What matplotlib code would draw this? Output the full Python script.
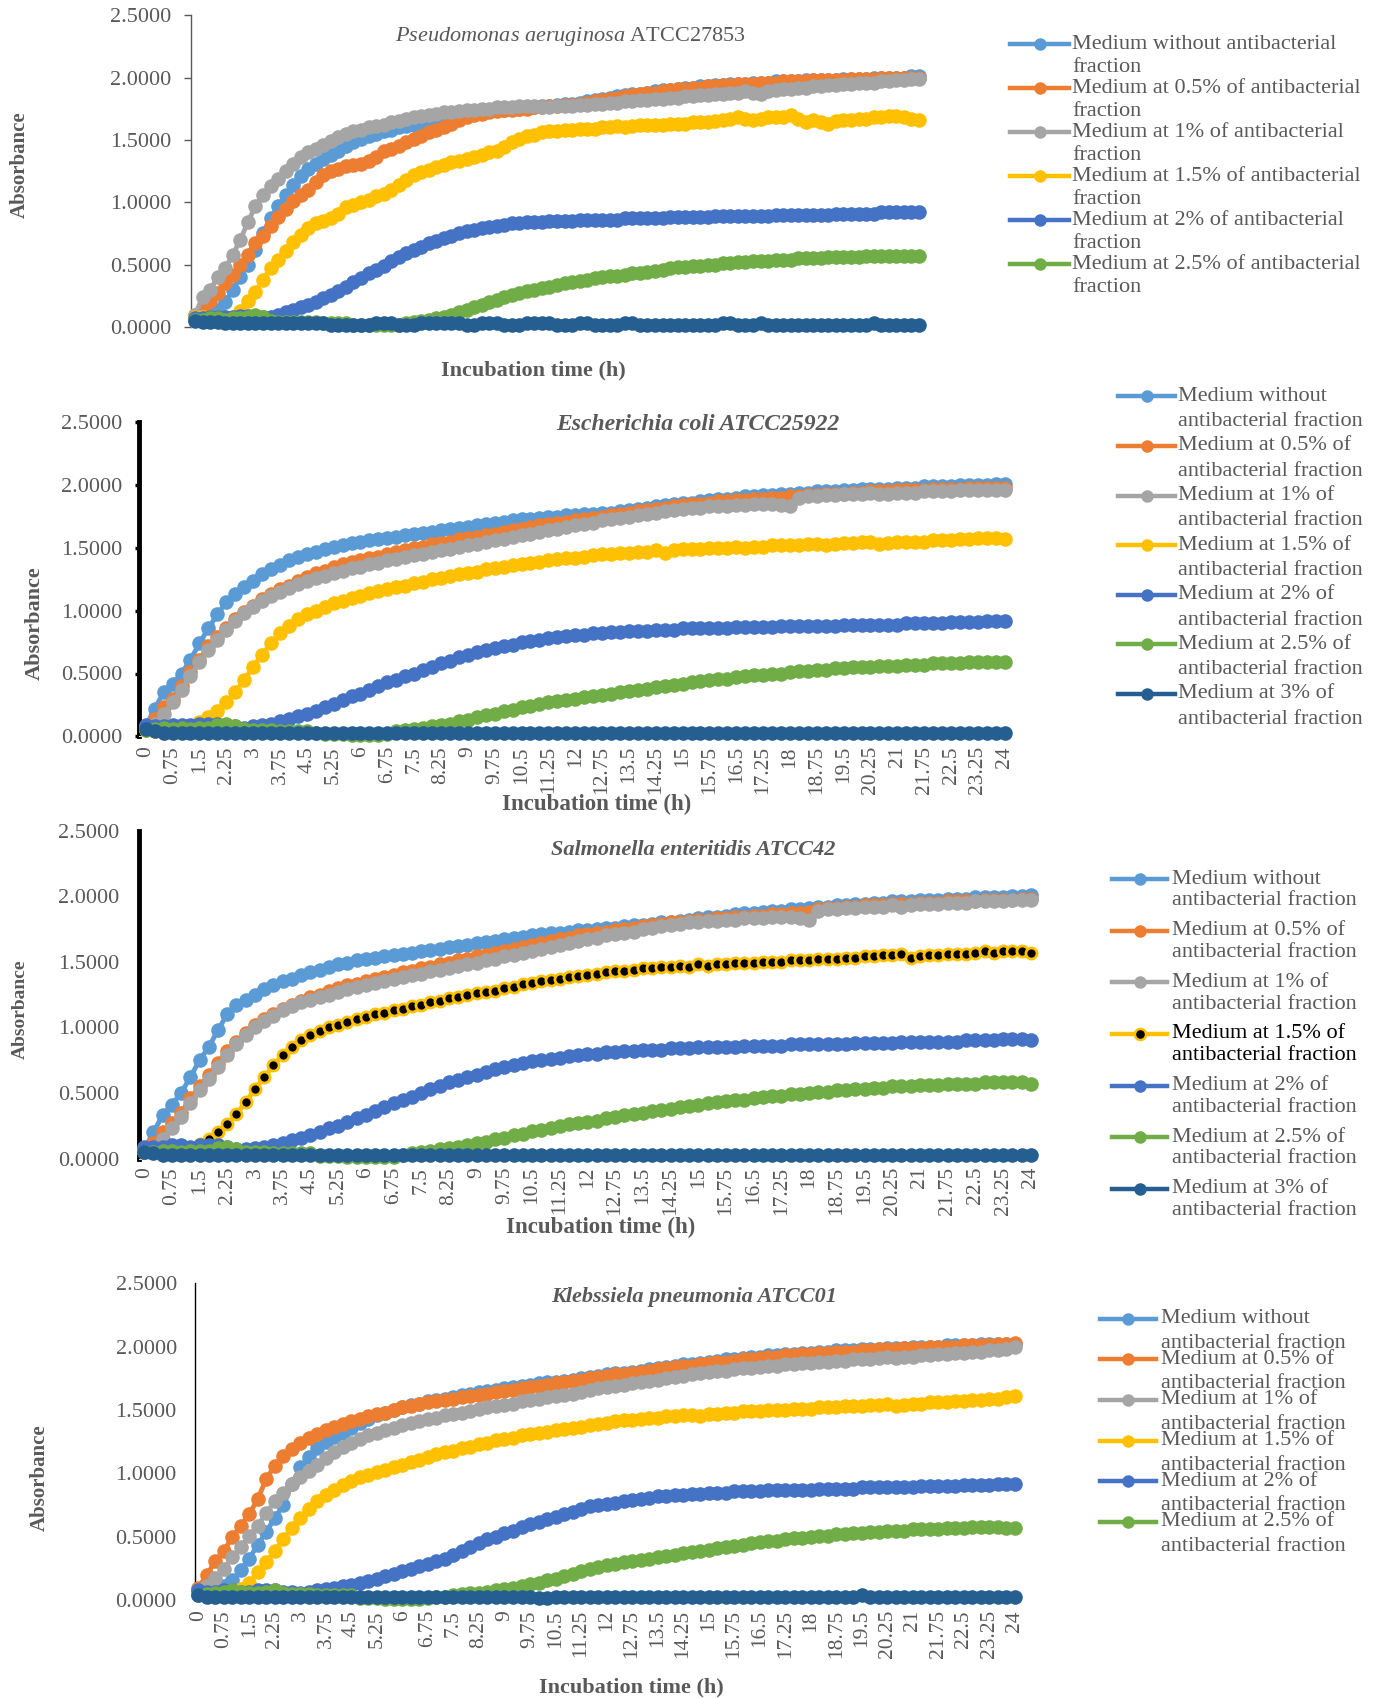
import numpy as np
import matplotlib
matplotlib.use("Agg")
import matplotlib.pyplot as plt
from matplotlib.lines import Line2D
from matplotlib.ticker import FormatStrFormatter

plt.rcParams['font.family'] = ['Liberation Serif', 'DejaVu Serif']
plt.rcParams['mathtext.fontset'] = 'custom'
plt.rcParams['mathtext.rm'] = 'Liberation Serif'
plt.rcParams['mathtext.it'] = 'Liberation Serif:italic'

# sampling every 0.25 h over 24 h (97 readings)
hours = np.arange(97) * 0.25
tick_hours = hours[::3]

series_names = [
    "Medium without antibacterial fraction",
    "Medium at 0.5% of antibacterial fraction",
    "Medium at 1% of antibacterial fraction",
    "Medium at 1.5% of antibacterial fraction",
    "Medium at 2% of antibacterial fraction",
    "Medium at 2.5% of antibacterial fraction",
    "Medium at 3% of antibacterial fraction",
]

# ---------------- Pseudomonas aeruginosa ----------------
pa_without = [0.08, 0.09, 0.10, 0.14, 0.20, 0.30, 0.40, 0.50, 0.62, 0.75, 0.87, 0.97,
              1.06, 1.14, 1.21, 1.27, 1.31, 1.35, 1.38, 1.41, 1.45, 1.48, 1.51, 1.53,
              1.55, 1.57, 1.58, 1.60, 1.61, 1.62, 1.63, 1.65, 1.66, 1.67, 1.68, 1.69,
              1.70, 1.71, 1.72, 1.73, 1.74, 1.74, 1.75, 1.75, 1.76, 1.76, 1.77, 1.77,
              1.78, 1.79, 1.79, 1.80, 1.81, 1.82, 1.83, 1.84, 1.85, 1.86, 1.87, 1.87,
              1.88, 1.89, 1.90, 1.90, 1.91, 1.92, 1.92, 1.93, 1.93, 1.94, 1.94, 1.95,
              1.95, 1.95, 1.96, 1.96, 1.96, 1.97, 1.97, 1.97, 1.97, 1.98, 1.98, 1.98,
              1.98, 1.98, 1.99, 1.99, 1.99, 1.99, 2.00, 2.00, 2.00, 2.00, 2.00, 2.01,
              2.01]
pa_05 = [0.10, 0.15, 0.21, 0.27, 0.35, 0.42, 0.50, 0.58, 0.67, 0.73, 0.81, 0.88,
         0.95, 1.01, 1.06, 1.10, 1.16, 1.22, 1.25, 1.27, 1.29, 1.30, 1.31, 1.33,
         1.36, 1.41, 1.43, 1.45, 1.48, 1.51, 1.53, 1.56, 1.58, 1.60, 1.63, 1.66,
         1.68, 1.70, 1.71, 1.72, 1.73, 1.74, 1.74, 1.75, 1.75, 1.76, 1.76, 1.77,
         1.77, 1.78, 1.78, 1.79, 1.80, 1.81, 1.82, 1.83, 1.84, 1.85, 1.86, 1.87,
         1.88, 1.88, 1.89, 1.90, 1.91, 1.91, 1.92, 1.92, 1.93, 1.93, 1.94, 1.94,
         1.95, 1.95, 1.95, 1.96, 1.96, 1.96, 1.97, 1.97, 1.97, 1.97, 1.98, 1.98,
         1.98, 1.98, 1.98, 1.99, 1.99, 1.99, 1.99, 2.00, 2.00, 2.00, 2.00, 2.00,
         2.00]
pa_1 = [0.10, 0.24, 0.30, 0.40, 0.47, 0.58, 0.70, 0.84, 0.97, 1.06, 1.13, 1.19,
        1.25, 1.31, 1.36, 1.40, 1.43, 1.46, 1.49, 1.52, 1.55, 1.57, 1.58, 1.60,
        1.61, 1.62, 1.64, 1.65, 1.67, 1.68, 1.69, 1.70, 1.71, 1.72, 1.72, 1.73,
        1.74, 1.74, 1.75, 1.75, 1.76, 1.76, 1.76, 1.77, 1.77, 1.77, 1.76, 1.76,
        1.77, 1.77, 1.77, 1.78, 1.78, 1.79, 1.79, 1.80, 1.80, 1.81, 1.81, 1.82,
        1.82, 1.83, 1.83, 1.84, 1.84, 1.85, 1.85, 1.86, 1.86, 1.87, 1.87, 1.88,
        1.88, 1.89, 1.88, 1.87, 1.89, 1.90, 1.91, 1.91, 1.92, 1.92, 1.93, 1.93,
        1.94, 1.94, 1.95, 1.95, 1.96, 1.96, 1.96, 1.97, 1.97, 1.98, 1.98, 1.99,
        1.99]
pa_15 = [0.08, 0.08, 0.08, 0.08, 0.08, 0.08, 0.13, 0.21, 0.28, 0.38, 0.47, 0.54,
         0.61, 0.68, 0.74, 0.79, 0.83, 0.85, 0.87, 0.91, 0.96, 0.98, 1.00, 1.02,
         1.05, 1.07, 1.10, 1.14, 1.18, 1.22, 1.24, 1.26, 1.28, 1.30, 1.32, 1.33,
         1.35, 1.36, 1.38, 1.40, 1.41, 1.44, 1.48, 1.51, 1.53, 1.54, 1.56, 1.57,
         1.57, 1.58, 1.58, 1.59, 1.59, 1.59, 1.60, 1.60, 1.61, 1.60, 1.61, 1.62,
         1.62, 1.62, 1.62, 1.63, 1.63, 1.63, 1.64, 1.64, 1.64, 1.65, 1.66, 1.67,
         1.68, 1.67, 1.66, 1.67, 1.68, 1.68, 1.68, 1.70, 1.67, 1.64, 1.66, 1.64,
         1.63, 1.65, 1.66, 1.66, 1.67, 1.67, 1.68, 1.68, 1.69, 1.69, 1.68, 1.67,
         1.66]
pa_2 = [0.07, 0.07, 0.08, 0.08, 0.08, 0.08, 0.09, 0.09, 0.09, 0.08, 0.08, 0.10,
        0.12, 0.14, 0.16, 0.18, 0.20, 0.23, 0.26, 0.29, 0.32, 0.36, 0.39, 0.43,
        0.46, 0.49, 0.53, 0.56, 0.59, 0.62, 0.64, 0.67, 0.69, 0.71, 0.73, 0.75,
        0.77, 0.78, 0.79, 0.80, 0.81, 0.82, 0.83, 0.83, 0.84, 0.84, 0.84, 0.85,
        0.85, 0.85, 0.85, 0.86, 0.86, 0.86, 0.86, 0.86, 0.86, 0.87, 0.87, 0.87,
        0.87, 0.87, 0.87, 0.88, 0.88, 0.88, 0.88, 0.88, 0.88, 0.89, 0.89, 0.89,
        0.89, 0.89, 0.89, 0.89, 0.89, 0.90, 0.90, 0.90, 0.90, 0.90, 0.90, 0.90,
        0.90, 0.91, 0.91, 0.91, 0.91, 0.91, 0.91, 0.92, 0.92, 0.92, 0.92, 0.92,
        0.92]
pa_25 = [0.06, 0.06, 0.07, 0.07, 0.06, 0.07, 0.07, 0.08, 0.10, 0.08, 0.05, 0.04,
         0.04, 0.04, 0.04, 0.04, 0.04, 0.03, 0.03, 0.03, 0.03, 0.02, 0.02, 0.02,
         0.02, 0.02, 0.02, 0.02, 0.03, 0.04, 0.05, 0.06, 0.07, 0.08, 0.10, 0.12,
         0.14, 0.16, 0.18, 0.20, 0.22, 0.24, 0.26, 0.27, 0.29, 0.30, 0.31, 0.32,
         0.34, 0.35, 0.36, 0.37, 0.38, 0.39, 0.40, 0.41, 0.41, 0.42, 0.43, 0.43,
         0.44, 0.45, 0.46, 0.47, 0.48, 0.48, 0.49, 0.49, 0.50, 0.50, 0.51, 0.51,
         0.52, 0.52, 0.53, 0.53, 0.53, 0.54, 0.54, 0.54, 0.55, 0.55, 0.55, 0.55,
         0.56, 0.56, 0.56, 0.56, 0.56, 0.57, 0.57, 0.57, 0.57, 0.57, 0.57, 0.57,
         0.57]
pa_3 = [0.05, 0.04, 0.04, 0.04, 0.03, 0.03, 0.03, 0.03, 0.03, 0.03, 0.03, 0.03,
        0.03, 0.03, 0.03, 0.03, 0.03, 0.03, 0.02, 0.02, 0.02, 0.02, 0.02, 0.02,
        0.03, 0.03, 0.03, 0.02, 0.02, 0.02, 0.03, 0.03, 0.03, 0.03, 0.03, 0.03,
        0.02, 0.02, 0.03, 0.03, 0.03, 0.02, 0.02, 0.02, 0.03, 0.03, 0.03, 0.03,
        0.02, 0.02, 0.02, 0.03, 0.03, 0.02, 0.02, 0.02, 0.02, 0.03, 0.03, 0.02,
        0.02, 0.02, 0.02, 0.02, 0.02, 0.02, 0.02, 0.02, 0.02, 0.02, 0.03, 0.03,
        0.02, 0.02, 0.02, 0.03, 0.02, 0.02, 0.02, 0.02, 0.02, 0.02, 0.02, 0.02,
        0.02, 0.02, 0.02, 0.02, 0.02, 0.02, 0.03, 0.02, 0.02, 0.02, 0.02, 0.02,
        0.02]

# ---------------- Escherichia coli ----------------
ec_without = [0.08, 0.22, 0.35, 0.42, 0.50, 0.61, 0.74, 0.86, 0.97, 1.07, 1.13, 1.19,
              1.24, 1.29, 1.33, 1.36, 1.40, 1.43, 1.45, 1.47, 1.49, 1.51, 1.52, 1.54,
              1.55, 1.56, 1.57, 1.58, 1.59, 1.60, 1.61, 1.62, 1.63, 1.64, 1.65, 1.66,
              1.67, 1.68, 1.69, 1.70, 1.71, 1.72, 1.73, 1.73, 1.74, 1.75, 1.75, 1.76,
              1.76, 1.77, 1.77, 1.78, 1.78, 1.79, 1.80, 1.81, 1.82, 1.83, 1.84, 1.85,
              1.86, 1.86, 1.87, 1.88, 1.89, 1.89, 1.90, 1.91, 1.91, 1.92, 1.92, 1.93,
              1.93, 1.94, 1.94, 1.95, 1.95, 1.95, 1.96, 1.96, 1.97, 1.97, 1.97, 1.97,
              1.98, 1.98, 1.98, 1.99, 1.99, 1.99, 1.99, 2.00, 2.00, 2.00, 2.00, 2.01,
              2.01]
ec_05 = [0.08, 0.14, 0.23, 0.30, 0.40, 0.51, 0.61, 0.72, 0.79, 0.86, 0.93, 0.99,
         1.04, 1.09, 1.13, 1.17, 1.20, 1.24, 1.27, 1.30, 1.32, 1.35, 1.37, 1.39,
         1.40, 1.42, 1.43, 1.45, 1.47, 1.48, 1.50, 1.51, 1.53, 1.54, 1.55, 1.57,
         1.58, 1.59, 1.60, 1.61, 1.63, 1.64, 1.65, 1.67, 1.68, 1.69, 1.70, 1.71,
         1.72, 1.73, 1.74, 1.75, 1.76, 1.77, 1.78, 1.79, 1.80, 1.81, 1.82, 1.83,
         1.84, 1.85, 1.85, 1.86, 1.87, 1.87, 1.88, 1.88, 1.89, 1.89, 1.90, 1.90,
         1.91, 1.91, 1.92, 1.92, 1.93, 1.93, 1.93, 1.94, 1.94, 1.95, 1.95, 1.95,
         1.96, 1.96, 1.96, 1.96, 1.97, 1.97, 1.97, 1.97, 1.98, 1.98, 1.98, 1.98,
         1.98]
ec_1 = [0.06, 0.10, 0.18, 0.27, 0.37, 0.48, 0.59, 0.69, 0.77, 0.85, 0.92, 0.98,
        1.03, 1.08, 1.12, 1.15, 1.18, 1.21, 1.24, 1.26, 1.28, 1.30, 1.32, 1.34,
        1.35, 1.37, 1.38, 1.40, 1.41, 1.43, 1.44, 1.45, 1.47, 1.48, 1.49, 1.51,
        1.52, 1.53, 1.55, 1.56, 1.57, 1.59, 1.60, 1.61, 1.63, 1.64, 1.65, 1.67,
        1.68, 1.69, 1.70, 1.72, 1.73, 1.74, 1.75, 1.76, 1.77, 1.78, 1.79, 1.80,
        1.81, 1.82, 1.82, 1.83, 1.83, 1.83, 1.84, 1.84, 1.85, 1.85, 1.85, 1.84,
        1.83, 1.90, 1.91, 1.91, 1.92, 1.92, 1.93, 1.93, 1.93, 1.94, 1.93, 1.93,
        1.94, 1.94, 1.94, 1.95, 1.95, 1.95, 1.95, 1.96, 1.96, 1.96, 1.96, 1.96,
        1.96]
ec_15 = [0.05, 0.04, 0.03, 0.04, 0.05, 0.07, 0.11, 0.15, 0.20, 0.27, 0.35, 0.45,
         0.55, 0.65, 0.74, 0.82, 0.88, 0.93, 0.97, 1.00, 1.03, 1.06, 1.08, 1.10,
         1.12, 1.14, 1.16, 1.17, 1.19, 1.20, 1.22, 1.23, 1.25, 1.26, 1.28, 1.29,
         1.30, 1.31, 1.33, 1.34, 1.35, 1.36, 1.37, 1.38, 1.39, 1.40, 1.41, 1.42,
         1.42, 1.43, 1.44, 1.45, 1.45, 1.46, 1.46, 1.47, 1.47, 1.48, 1.46, 1.48,
         1.49, 1.49, 1.49, 1.50, 1.50, 1.50, 1.51, 1.50, 1.51, 1.51, 1.52, 1.52,
         1.52, 1.52, 1.53, 1.53, 1.52, 1.53, 1.54, 1.54, 1.55, 1.55, 1.53, 1.54,
         1.55, 1.55, 1.55, 1.55, 1.56, 1.56, 1.56, 1.57, 1.57, 1.58, 1.58, 1.58,
         1.57]
ec_2 = [0.09, 0.08, 0.08, 0.09, 0.09, 0.09, 0.10, 0.10, 0.10, 0.09, 0.08, 0.07,
        0.08, 0.09, 0.10, 0.12, 0.14, 0.16, 0.18, 0.20, 0.23, 0.26, 0.29, 0.32,
        0.34, 0.37, 0.40, 0.43, 0.45, 0.48, 0.50, 0.53, 0.55, 0.58, 0.60, 0.63,
        0.65, 0.67, 0.69, 0.70, 0.72, 0.73, 0.75, 0.76, 0.77, 0.78, 0.79, 0.80,
        0.81, 0.81, 0.82, 0.82, 0.83, 0.83, 0.84, 0.84, 0.84, 0.85, 0.85, 0.85,
        0.86, 0.86, 0.86, 0.86, 0.86, 0.86, 0.87, 0.87, 0.87, 0.87, 0.87, 0.88,
        0.88, 0.88, 0.88, 0.88, 0.88, 0.88, 0.89, 0.89, 0.89, 0.89, 0.89, 0.89,
        0.89, 0.90, 0.90, 0.90, 0.90, 0.90, 0.91, 0.91, 0.91, 0.91, 0.92, 0.92,
        0.92]
ec_25 = [0.05, 0.06, 0.07, 0.06, 0.07, 0.06, 0.07, 0.07, 0.09, 0.10, 0.08, 0.06,
         0.05, 0.05, 0.05, 0.04, 0.04, 0.04, 0.04, 0.03, 0.02, 0.02, 0.02, 0.01,
         0.01, 0.01, 0.01, 0.02, 0.04, 0.05, 0.06, 0.07, 0.08, 0.09, 0.10, 0.12,
         0.13, 0.15, 0.17, 0.18, 0.20, 0.21, 0.23, 0.24, 0.26, 0.27, 0.28, 0.29,
         0.30, 0.31, 0.32, 0.33, 0.34, 0.35, 0.36, 0.37, 0.38, 0.39, 0.40, 0.41,
         0.42, 0.43, 0.44, 0.45, 0.46, 0.46, 0.47, 0.48, 0.49, 0.49, 0.50, 0.50,
         0.51, 0.52, 0.52, 0.53, 0.53, 0.54, 0.54, 0.55, 0.55, 0.55, 0.56, 0.56,
         0.56, 0.57, 0.57, 0.57, 0.58, 0.58, 0.58, 0.58, 0.59, 0.59, 0.59, 0.59,
         0.59]
ec_3 = [0.06, 0.04, 0.03, 0.03, 0.03, 0.03, 0.03, 0.03, 0.03, 0.03, 0.03, 0.03,
        0.03, 0.03, 0.03, 0.03, 0.03, 0.03, 0.03, 0.03, 0.03, 0.03, 0.03, 0.03,
        0.03, 0.03, 0.03, 0.03, 0.03, 0.03, 0.03, 0.03, 0.03, 0.03, 0.03, 0.03,
        0.03, 0.03, 0.03, 0.03, 0.03, 0.03, 0.03, 0.03, 0.03, 0.03, 0.03, 0.03,
        0.03, 0.03, 0.03, 0.03, 0.03, 0.03, 0.03, 0.03, 0.03, 0.03, 0.03, 0.03,
        0.03, 0.03, 0.03, 0.03, 0.03, 0.03, 0.03, 0.03, 0.03, 0.03, 0.03, 0.03,
        0.03, 0.03, 0.03, 0.03, 0.03, 0.03, 0.03, 0.03, 0.03, 0.03, 0.03, 0.03,
        0.03, 0.03, 0.03, 0.03, 0.03, 0.03, 0.03, 0.03, 0.03, 0.03, 0.03, 0.03,
        0.03]

# ---------------- Salmonella enteritidis ----------------
se_without = [0.07, 0.20, 0.33, 0.41, 0.50, 0.62, 0.75, 0.85, 0.98, 1.10, 1.17, 1.21,
              1.25, 1.29, 1.32, 1.35, 1.37, 1.40, 1.42, 1.44, 1.46, 1.48, 1.49, 1.51,
              1.52, 1.53, 1.54, 1.55, 1.56, 1.57, 1.58, 1.59, 1.60, 1.61, 1.62, 1.63,
              1.64, 1.65, 1.66, 1.67, 1.68, 1.69, 1.70, 1.71, 1.72, 1.72, 1.73, 1.74,
              1.74, 1.75, 1.76, 1.76, 1.77, 1.78, 1.78, 1.79, 1.80, 1.80, 1.81, 1.82,
              1.83, 1.84, 1.84, 1.85, 1.86, 1.87, 1.87, 1.88, 1.89, 1.89, 1.90, 1.90,
              1.91, 1.92, 1.92, 1.93, 1.93, 1.94, 1.94, 1.95, 1.95, 1.96, 1.96, 1.96,
              1.97, 1.97, 1.97, 1.98, 1.98, 1.98, 1.99, 1.99, 1.99, 1.99, 2.00, 2.00,
              2.01]
se_05 = [0.07, 0.12, 0.20, 0.27, 0.35, 0.46, 0.55, 0.64, 0.73, 0.82, 0.89, 0.96,
         1.02, 1.06, 1.10, 1.14, 1.17, 1.20, 1.23, 1.25, 1.28, 1.30, 1.32, 1.33,
         1.35, 1.37, 1.38, 1.40, 1.42, 1.43, 1.45, 1.46, 1.48, 1.49, 1.51, 1.52,
         1.54, 1.55, 1.57, 1.58, 1.60, 1.61, 1.63, 1.64, 1.66, 1.67, 1.68, 1.70,
         1.71, 1.72, 1.73, 1.74, 1.75, 1.76, 1.77, 1.78, 1.79, 1.80, 1.80, 1.81,
         1.82, 1.82, 1.83, 1.83, 1.84, 1.84, 1.85, 1.85, 1.86, 1.86, 1.87, 1.87,
         1.88, 1.90, 1.91, 1.91, 1.92, 1.92, 1.93, 1.93, 1.93, 1.94, 1.94, 1.94,
         1.95, 1.95, 1.95, 1.96, 1.96, 1.96, 1.96, 1.97, 1.97, 1.97, 1.97, 1.98,
         1.98]
se_1 = [0.05, 0.08, 0.15, 0.23, 0.32, 0.42, 0.52, 0.61, 0.70, 0.79, 0.87, 0.94,
        1.00, 1.05, 1.09, 1.13, 1.16, 1.19, 1.21, 1.23, 1.25, 1.27, 1.29, 1.31,
        1.32, 1.34, 1.35, 1.37, 1.38, 1.40, 1.41, 1.43, 1.44, 1.45, 1.47, 1.48,
        1.49, 1.51, 1.52, 1.54, 1.55, 1.57, 1.58, 1.60, 1.61, 1.63, 1.64, 1.66,
        1.67, 1.68, 1.70, 1.71, 1.72, 1.73, 1.75, 1.76, 1.77, 1.78, 1.79, 1.80,
        1.80, 1.81, 1.81, 1.82, 1.82, 1.83, 1.83, 1.83, 1.84, 1.84, 1.84, 1.83,
        1.82, 1.89, 1.90, 1.90, 1.91, 1.91, 1.92, 1.92, 1.92, 1.93, 1.92, 1.93,
        1.94, 1.94, 1.94, 1.95, 1.95, 1.95, 1.96, 1.96, 1.96, 1.96, 1.97, 1.97,
        1.97]
se_15 = [0.05, 0.04, 0.03, 0.04, 0.06, 0.08, 0.11, 0.15, 0.20, 0.26, 0.34, 0.43,
         0.53, 0.62, 0.71, 0.79, 0.85, 0.90, 0.94, 0.97, 1.00, 1.02, 1.04, 1.06,
         1.08, 1.10, 1.11, 1.13, 1.14, 1.16, 1.17, 1.19, 1.20, 1.22, 1.23, 1.25,
         1.26, 1.27, 1.28, 1.30, 1.31, 1.33, 1.34, 1.35, 1.36, 1.37, 1.38, 1.39,
         1.40, 1.41, 1.42, 1.43, 1.43, 1.44, 1.45, 1.45, 1.46, 1.46, 1.47, 1.46,
         1.48, 1.47, 1.48, 1.48, 1.49, 1.49, 1.49, 1.50, 1.50, 1.50, 1.51, 1.51,
         1.51, 1.52, 1.52, 1.52, 1.53, 1.53, 1.54, 1.54, 1.55, 1.55, 1.56, 1.53,
         1.54, 1.55, 1.55, 1.56, 1.56, 1.56, 1.57, 1.58, 1.57, 1.58, 1.58, 1.58,
         1.57]
se_2 = [0.09, 0.09, 0.09, 0.10, 0.10, 0.09, 0.10, 0.10, 0.10, 0.09, 0.07, 0.07,
        0.08, 0.09, 0.10, 0.12, 0.14, 0.16, 0.18, 0.20, 0.23, 0.25, 0.28, 0.31,
        0.33, 0.36, 0.39, 0.42, 0.45, 0.47, 0.50, 0.53, 0.55, 0.58, 0.60, 0.62,
        0.64, 0.66, 0.68, 0.70, 0.71, 0.73, 0.74, 0.75, 0.76, 0.77, 0.78, 0.79,
        0.80, 0.80, 0.81, 0.81, 0.82, 0.82, 0.83, 0.83, 0.83, 0.84, 0.84, 0.84,
        0.85, 0.85, 0.85, 0.85, 0.85, 0.86, 0.86, 0.86, 0.86, 0.86, 0.87, 0.87,
        0.87, 0.87, 0.87, 0.87, 0.87, 0.88, 0.88, 0.88, 0.88, 0.88, 0.89, 0.89,
        0.89, 0.89, 0.89, 0.89, 0.89, 0.90, 0.90, 0.90, 0.90, 0.91, 0.91, 0.91,
        0.90]
se_25 = [0.05, 0.05, 0.06, 0.06, 0.05, 0.06, 0.06, 0.06, 0.08, 0.09, 0.07, 0.05,
         0.05, 0.05, 0.04, 0.04, 0.04, 0.04, 0.04, 0.02, 0.02, 0.02, 0.01, 0.01,
         0.01, 0.01, 0.01, 0.01, 0.03, 0.04, 0.05, 0.06, 0.07, 0.08, 0.09, 0.10,
         0.12, 0.13, 0.15, 0.16, 0.18, 0.19, 0.21, 0.22, 0.23, 0.25, 0.26, 0.27,
         0.28, 0.29, 0.31, 0.32, 0.33, 0.34, 0.35, 0.36, 0.37, 0.38, 0.39, 0.40,
         0.41, 0.42, 0.43, 0.44, 0.45, 0.45, 0.46, 0.47, 0.48, 0.48, 0.49, 0.49,
         0.50, 0.51, 0.51, 0.52, 0.52, 0.53, 0.53, 0.54, 0.54, 0.55, 0.55, 0.55,
         0.56, 0.56, 0.56, 0.57, 0.57, 0.57, 0.57, 0.58, 0.58, 0.58, 0.58, 0.58,
         0.57]
se_3 = [0.05, 0.04, 0.03, 0.03, 0.03, 0.03, 0.03, 0.03, 0.03, 0.03, 0.03, 0.03,
        0.03, 0.03, 0.03, 0.03, 0.03, 0.03, 0.03, 0.03, 0.03, 0.03, 0.03, 0.03,
        0.03, 0.03, 0.03, 0.03, 0.03, 0.03, 0.03, 0.03, 0.03, 0.03, 0.03, 0.03,
        0.03, 0.03, 0.03, 0.03, 0.03, 0.03, 0.03, 0.03, 0.03, 0.03, 0.03, 0.03,
        0.03, 0.03, 0.03, 0.03, 0.03, 0.03, 0.03, 0.03, 0.03, 0.03, 0.03, 0.03,
        0.03, 0.03, 0.03, 0.03, 0.03, 0.03, 0.03, 0.03, 0.03, 0.03, 0.03, 0.03,
        0.03, 0.03, 0.03, 0.03, 0.03, 0.03, 0.03, 0.03, 0.03, 0.03, 0.03, 0.03,
        0.03, 0.03, 0.03, 0.03, 0.03, 0.03, 0.03, 0.03, 0.03, 0.03, 0.03, 0.03,
        0.03]

# ---------------- Klebsiella pneumoniae ----------------
kp_without = [0.08, 0.07, 0.08, 0.11, 0.16, 0.24, 0.33, 0.44, 0.54, 0.65, 0.75, 0.92,
              1.05, 1.13, 1.20, 1.25, 1.29, 1.32, 1.36, 1.40, 1.43, 1.46, 1.48, 1.50,
              1.52, 1.54, 1.55, 1.57, 1.58, 1.59, 1.60, 1.62, 1.63, 1.64, 1.65, 1.66,
              1.67, 1.68, 1.69, 1.70, 1.71, 1.72, 1.72, 1.73, 1.74, 1.75, 1.76, 1.77,
              1.78, 1.79, 1.79, 1.80, 1.81, 1.82, 1.83, 1.84, 1.85, 1.86, 1.86, 1.87,
              1.88, 1.89, 1.90, 1.90, 1.91, 1.92, 1.92, 1.93, 1.93, 1.94, 1.94, 1.95,
              1.95, 1.96, 1.96, 1.97, 1.97, 1.97, 1.98, 1.98, 1.98, 1.99, 1.99, 1.99,
              2.00, 2.00, 2.00, 2.00, 2.01, 2.01, 2.01, 2.01, 2.02, 2.02, 2.02, 2.02,
              2.02]
kp_05 = [0.10, 0.20, 0.31, 0.39, 0.50, 0.59, 0.68, 0.80, 0.96, 1.06, 1.14, 1.19,
         1.24, 1.28, 1.31, 1.34, 1.37, 1.39, 1.41, 1.43, 1.45, 1.47, 1.48, 1.50,
         1.52, 1.53, 1.55, 1.56, 1.57, 1.58, 1.59, 1.60, 1.61, 1.62, 1.63, 1.64,
         1.65, 1.66, 1.67, 1.68, 1.69, 1.70, 1.71, 1.72, 1.73, 1.74, 1.75, 1.76,
         1.77, 1.78, 1.78, 1.79, 1.80, 1.81, 1.82, 1.83, 1.84, 1.85, 1.85, 1.86,
         1.87, 1.88, 1.88, 1.89, 1.90, 1.90, 1.91, 1.92, 1.92, 1.93, 1.93, 1.94,
         1.94, 1.95, 1.95, 1.96, 1.96, 1.96, 1.97, 1.97, 1.98, 1.98, 1.98, 1.99,
         1.99, 1.99, 2.00, 2.00, 2.00, 2.00, 2.01, 2.01, 2.01, 2.01, 2.02, 2.02,
         2.03]
kp_1 = [0.08, 0.11, 0.18, 0.25, 0.34, 0.42, 0.51, 0.59, 0.69, 0.78, 0.85, 0.92,
        0.97, 1.02, 1.07, 1.12, 1.17, 1.21, 1.24, 1.27, 1.30, 1.32, 1.34, 1.36,
        1.38, 1.40, 1.41, 1.43, 1.44, 1.46, 1.47, 1.48, 1.49, 1.51, 1.52, 1.53,
        1.54, 1.55, 1.57, 1.58, 1.59, 1.60, 1.61, 1.62, 1.63, 1.64, 1.66, 1.67,
        1.68, 1.69, 1.70, 1.71, 1.72, 1.73, 1.74, 1.75, 1.76, 1.77, 1.78, 1.79,
        1.80, 1.81, 1.81, 1.82, 1.83, 1.83, 1.84, 1.85, 1.85, 1.86, 1.86, 1.87,
        1.87, 1.88, 1.88, 1.89, 1.89, 1.90, 1.90, 1.90, 1.91, 1.92, 1.91, 1.92,
        1.92, 1.93, 1.93, 1.94, 1.94, 1.95, 1.95, 1.96, 1.96, 1.97, 1.97, 1.98,
        2.00]
kp_15 = [0.05, 0.04, 0.03, 0.04, 0.06, 0.09, 0.14, 0.22, 0.30, 0.39, 0.48, 0.57,
         0.65, 0.72, 0.78, 0.83, 0.87, 0.91, 0.94, 0.97, 0.99, 1.01, 1.03, 1.05,
         1.07, 1.09, 1.11, 1.13, 1.15, 1.17, 1.18, 1.20, 1.21, 1.23, 1.24, 1.26,
         1.27, 1.28, 1.30, 1.31, 1.32, 1.33, 1.34, 1.35, 1.36, 1.37, 1.38, 1.39,
         1.40, 1.41, 1.42, 1.42, 1.43, 1.44, 1.44, 1.45, 1.45, 1.46, 1.46, 1.45,
         1.47, 1.47, 1.48, 1.48, 1.49, 1.49, 1.49, 1.50, 1.50, 1.50, 1.51, 1.51,
         1.51, 1.52, 1.52, 1.52, 1.53, 1.53, 1.53, 1.54, 1.54, 1.55, 1.53, 1.54,
         1.55, 1.55, 1.56, 1.56, 1.56, 1.57, 1.57, 1.58, 1.58, 1.59, 1.59, 1.60,
         1.61]
kp_2 = [0.08, 0.07, 0.07, 0.08, 0.08, 0.07, 0.07, 0.08, 0.08, 0.08, 0.07, 0.07,
        0.06, 0.07, 0.08, 0.09, 0.10, 0.11, 0.12, 0.14, 0.15, 0.17, 0.19, 0.21,
        0.23, 0.25, 0.27, 0.29, 0.31, 0.33, 0.36, 0.39, 0.42, 0.45, 0.48, 0.50,
        0.53, 0.55, 0.58, 0.60, 0.62, 0.64, 0.66, 0.68, 0.70, 0.72, 0.74, 0.75,
        0.76, 0.77, 0.78, 0.79, 0.80, 0.81, 0.82, 0.82, 0.83, 0.83, 0.84, 0.84,
        0.85, 0.85, 0.85, 0.86, 0.86, 0.86, 0.86, 0.87, 0.87, 0.87, 0.87, 0.87,
        0.87, 0.88, 0.88, 0.88, 0.88, 0.88, 0.89, 0.89, 0.89, 0.89, 0.89, 0.89,
        0.89, 0.90, 0.90, 0.90, 0.90, 0.90, 0.91, 0.91, 0.91, 0.91, 0.92, 0.92,
        0.92]
kp_25 = [0.04, 0.05, 0.06, 0.07, 0.08, 0.07, 0.06, 0.06, 0.07, 0.08, 0.06, 0.05,
         0.05, 0.05, 0.04, 0.04, 0.04, 0.04, 0.04, 0.02, 0.02, 0.02, 0.01, 0.01,
         0.01, 0.01, 0.01, 0.02, 0.03, 0.03, 0.04, 0.05, 0.06, 0.06, 0.07, 0.08,
         0.09, 0.10, 0.11, 0.13, 0.14, 0.16, 0.17, 0.19, 0.21, 0.23, 0.25, 0.26,
         0.28, 0.29, 0.30, 0.31, 0.32, 0.33, 0.34, 0.35, 0.36, 0.37, 0.38, 0.39,
         0.40, 0.41, 0.42, 0.43, 0.44, 0.45, 0.46, 0.47, 0.47, 0.48, 0.49, 0.49,
         0.50, 0.51, 0.51, 0.52, 0.52, 0.53, 0.53, 0.54, 0.54, 0.55, 0.55, 0.55,
         0.56, 0.56, 0.56, 0.56, 0.57, 0.57, 0.57, 0.58, 0.58, 0.58, 0.58, 0.57,
         0.57]
kp_3 = [0.04, 0.03, 0.03, 0.03, 0.03, 0.03, 0.03, 0.03, 0.03, 0.03, 0.03, 0.03,
        0.03, 0.03, 0.03, 0.03, 0.03, 0.03, 0.03, 0.03, 0.03, 0.03, 0.03, 0.03,
        0.03, 0.03, 0.03, 0.03, 0.03, 0.03, 0.03, 0.03, 0.03, 0.03, 0.03, 0.03,
        0.03, 0.03, 0.03, 0.03, 0.02, 0.02, 0.03, 0.03, 0.03, 0.03, 0.03, 0.03,
        0.03, 0.03, 0.03, 0.03, 0.03, 0.03, 0.03, 0.03, 0.03, 0.03, 0.03, 0.03,
        0.03, 0.03, 0.03, 0.03, 0.03, 0.03, 0.03, 0.03, 0.03, 0.03, 0.03, 0.03,
        0.03, 0.03, 0.03, 0.03, 0.03, 0.03, 0.04, 0.03, 0.03, 0.03, 0.03, 0.03,
        0.03, 0.03, 0.03, 0.03, 0.03, 0.03, 0.03, 0.03, 0.03, 0.03, 0.03, 0.03,
        0.03]

colors = ['#5B9BD5', '#ED7D31', '#A5A5A5', '#FFC000', '#4472C4', '#70AD47', '#255E91']
TXT = '#595959'

W, H = 1387, 1698
fig = plt.figure(figsize=(W / 100, H / 100), dpi=100)


def fx(x):
    return x / W


def fy(y):
    return 1 - y / H


panels = [
    dict(data=[pa_without, pa_05, pa_1, pa_15, pa_2, pa_25, pa_3],
         title=r"$\mathit{Pseudomonas\ aeruginosa}$ ATCC27853", tstyle='normal', tweight='normal', tsize=16,
         box=(190.6, 922.5, 15.2, 327.0), xmin=-0.15, xlabels=False,
         title_xy=(570, 36), xlab_xy=(533, 370), ylab_xy=(20, 165), ylab_size=15, xlab_size=16,
         spine_w=1.0, spine_c='#595959', tick_len=5, ypad=9,
         leg=dict(x0=1010, x1=1069, xt=1072, y0=44.4, dy=44.0, off=22.7, n=6, wrap='last')),
    dict(data=[ec_without, ec_05, ec_1, ec_15, ec_2, ec_25, ec_3],
         title="Escherichia coli ATCC25922", tstyle='italic', tweight='bold', tsize=17,
         box=(138.6, 1009.0, 422.3, 736.3), xmin=-0.2, xlabels=True, xpad=7,
         title_xy=(698, 425), xlab_xy=(597, 804), ylab_xy=(35, 623), ylab_size=16, xlab_size=16.5,
         spine_w=3.5, spine_c='black', tick_len=3, ypad=9,
         leg=dict(x0=1118, x1=1175, xt=1178, y0=396.3, dy=49.6, off=25.4, n=7, wrap='of')),
    dict(data=[se_without, se_05, se_1, se_15, se_2, se_25, se_3],
         title="Salmonella enteritidis ATCC42", tstyle='italic', tweight='bold', tsize=16,
         box=(138.6, 1035.2, 830.5, 1158.6), xmin=-0.15, xlabels=True, xpad=6,
         title_xy=(693, 850), xlab_xy=(601, 1227), ylab_xy=(20, 1009), ylab_size=14, xlab_size=16.5,
         spine_w=3.5, spine_c='black', tick_len=0, ypad=14,
         leg=dict(x0=1112, x1=1167, xt=1171.6, y0=879.2, dy=51.6, off=21.7, n=7, wrap='of')),
    dict(data=[kp_without, kp_05, kp_1, kp_15, kp_2, kp_25, kp_3],
         title="Klebssiela pneumonia ATCC01", tstyle='italic', tweight='bold', tsize=16,
         box=(194.9, 1018.9, 1283.1, 1600.4), xmin=-0.1, xlabels=True, xpad=7,
         title_xy=(694, 1297), xlab_xy=(631, 1687), ylab_xy=(40, 1478), ylab_size=15, xlab_size=16,
         spine_w=1.0, spine_c='black', tick_len=0, ypad=13,
         leg=dict(x0=1100, x1=1156, xt=1160.7, y0=1318.8, dy=40.6, off=24.4, n=6, wrap='of')),
]

MS = 10.5
LW = 3.5

for pi, p in enumerate(panels):
    l, r, t, b = p['box']
    ax = fig.add_axes([fx(l), fy(b), (r - l) / W, (b - t) / H])
    for k, vals in enumerate(p['data']):
        kw = dict(color=colors[k], lw=LW, marker='o', ms=MS, mew=0, clip_on=False, zorder=3 + k)
        if pi == 2 and k == 3:
            kw.update(mfc='black', mec=colors[3], mew=2.0, ms=8)
        ax.plot(hours, vals, **kw)

    ax.set_ylim(0, 2.5)
    ax.set_xlim(p['xmin'], 24.12)
    ax.set_yticks([0, 0.5, 1.0, 1.5, 2.0, 2.5])
    ax.yaxis.set_major_formatter(FormatStrFormatter('%.4f'))
    for s in ['top', 'right']:
        ax.spines[s].set_visible(False)
    ax.spines['left'].set_linewidth(p['spine_w'])
    ax.spines['left'].set_color(p['spine_c'])
    ax.spines['bottom'].set_color('#D9D9D9')
    ax.tick_params(axis='y', length=p['tick_len'], width=max(1, p['spine_w'] * 0.7),
                   color=p['spine_c'], pad=p['ypad'], labelsize=16, labelcolor=TXT)
    if p['xlabels']:
        ax.set_xticks(tick_hours)
        ax.set_xticklabels([f"{h:g}" for h in tick_hours], rotation=90)
        ax.tick_params(axis='x', length=0, pad=p['xpad'], labelsize=15.5, labelcolor=TXT)
    else:
        ax.set_xticks([])

    # titles and axis labels
    fig.text(fx(p['title_xy'][0]), fy(p['title_xy'][1]), p['title'], ha='center', va='center',
             fontsize=p['tsize'], style=p['tstyle'], weight=p['tweight'], color=TXT)
    fig.text(fx(p['xlab_xy'][0]), fy(p['xlab_xy'][1]), "Incubation time (h)", ha='center', va='center',
             fontsize=p['xlab_size'], weight='bold', color=TXT)
    fig.text(fx(p['ylab_xy'][0]), fy(p['ylab_xy'][1]), "Absorbance", ha='center', va='center',
             rotation=90, fontsize=p['ylab_size'], weight='bold', color=TXT)

    # legend, drawn entry by entry
    lg = p['leg']
    for k in range(lg['n']):
        name = series_names[k]
        if lg['wrap'] == 'last':
            line1, line2 = name.rsplit(' ', 1)
        else:
            line1, line2 = name.split(' antibacterial')
            line2 = 'antibacterial' + line2
        y = lg['y0'] + k * lg['dy']
        fig.add_artist(Line2D([fx(lg['x0']), fx(lg['x1'])], [fy(y), fy(y)], color=colors[k], lw=3.2))
        mk = dict(color=colors[k], marker='o', ms=9, mew=0)
        if pi == 2 and k == 3:
            mk.update(mfc='black', mec=colors[3], mew=1.8, ms=8)
        fig.add_artist(Line2D([fx((lg['x0'] + lg['x1']) / 2)], [fy(y)], **mk))
        tc = 'black' if (pi == 2 and k == 3) else TXT
        fig.text(fx(lg['xt']), fy(y), line1, ha='left', va='center', fontsize=16, color=tc)
        fig.text(fx(lg['xt']), fy(y + lg['off']), line2, ha='left', va='center', fontsize=16, color=tc)

fig.savefig('out.png', dpi=100)
